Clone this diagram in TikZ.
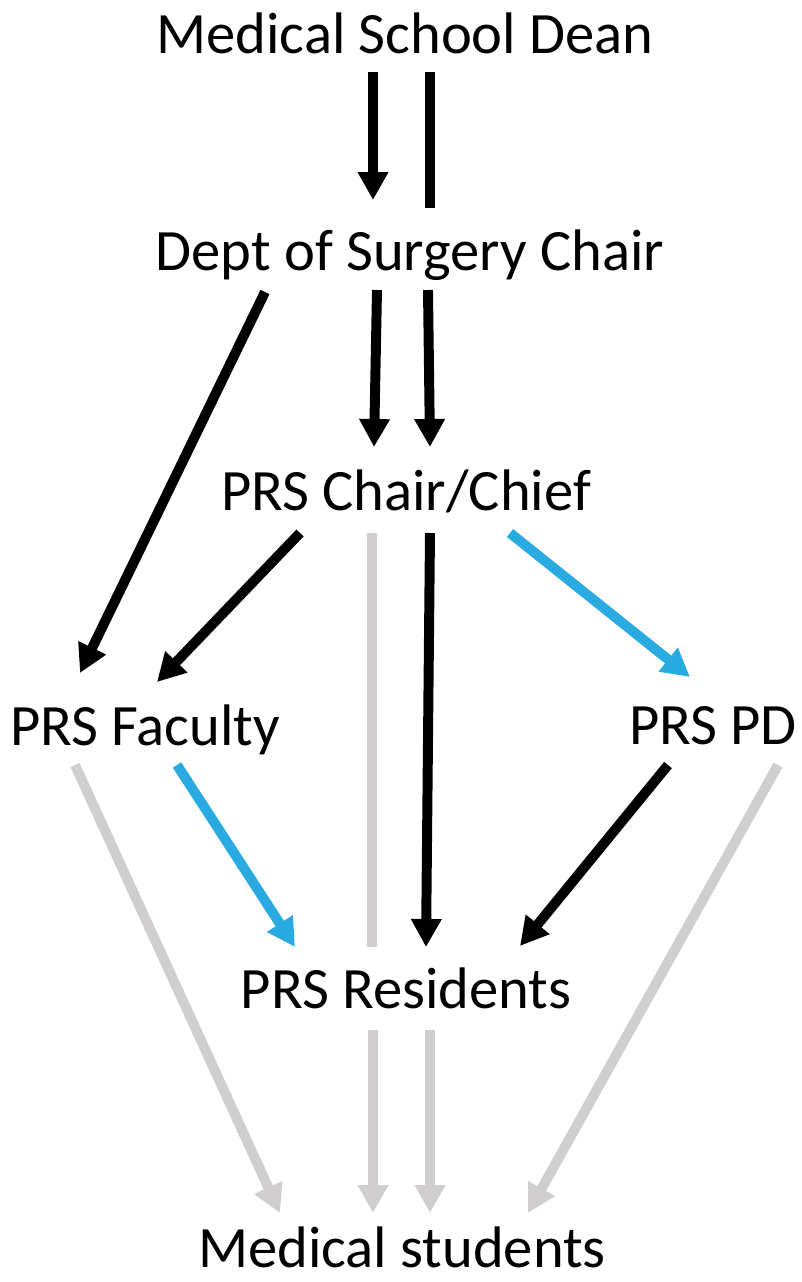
\documentclass[tikz,border=0pt]{standalone}
\usepackage{fontspec}
\setmainfont{Carlito}
\usetikzlibrary{arrows.meta}
\definecolor{prsblue}{RGB}{41,171,226}
\definecolor{prsgray}{RGB}{208,206,206}
\begin{document}
\begin{tikzpicture}[x=0.03cm, y=-0.03cm,
	lbl/.style={anchor=base, inner sep=0pt, font=\fontsize{50}{60}\selectfont},
	con/.style={line width=8.5pt},
	tip/.style={con, -{Triangle[width=0.87cm,length=0.84cm]}},
]
	\useasboundingbox (0,0) rectangle (801,1282);
	\path
		(405,53) node[lbl] (dean) {Medical School Dean}
		(410,270) node[lbl] (surg) {Dept of Surgery Chair}
		(406,510) node[lbl] (prs) {PRS Chair/Chief}
		(145,745) node[lbl] (fac) {PRS Faculty}
		(713,744) node[lbl] (pd) {PRS PD}
		(406,1008) node[lbl] (res) {PRS Residents}
		(402,1267) node[lbl] (stud) {Medical students}
	;
	% black lines
	\draw[tip] ([shift={(-32,19)}]dean.base) -- ([shift={(-37,-70)}]surg.base);
	\draw[con] ([shift={(25,19)}]dean.base) -- ([shift={(20,-62)}]surg.base);
	\draw[tip] ([shift={(-33,20)}]surg.base) -- ([shift={(-32,-63)}]prs.base);
	\draw[tip] ([shift={(18,20)}]surg.base) -- ([shift={(24,-63)}]prs.base);
	\draw[tip] ([shift={(-145,22)}]surg.base) -- ([shift={(-65,-72)}]fac.base);
	\draw[tip] ([shift={(-106,23)}]prs.base) -- ([shift={(12,-63)}]fac.base);
	\draw[tip] ([shift={(24,23)}]prs.base) -- ([shift={(20,-61)}]res.base);
	\draw[tip] ([shift={(-45,21)}]pd.base) -- ([shift={(114,-62)}]res.base);
	% blue lines
	\draw[tip, prsblue] ([shift={(104,23)}]prs.base) -- ([shift={(-23,-67)}]pd.base);
	\draw[tip, prsblue] ([shift={(32,20)}]fac.base) -- ([shift={(-111,-61)}]res.base);
	% gray lines
	\draw[con, prsgray] ([shift={(-34,23)}]prs.base) -- ([shift={(-34,-61)}]res.base);
	\draw[tip, prsgray] ([shift={(-70,20)}]fac.base) -- ([shift={(-122,-54)}]stud.base);
	\draw[tip, prsgray] ([shift={(-33,22)}]res.base) -- ([shift={(-29,-54)}]stud.base);
	\draw[tip, prsgray] ([shift={(24,22)}]res.base) -- ([shift={(28,-54)}]stud.base);
	\draw[tip, prsgray] ([shift={(65,21)}]pd.base) -- ([shift={(126,-54)}]stud.base);
\end{tikzpicture}
\end{document}
